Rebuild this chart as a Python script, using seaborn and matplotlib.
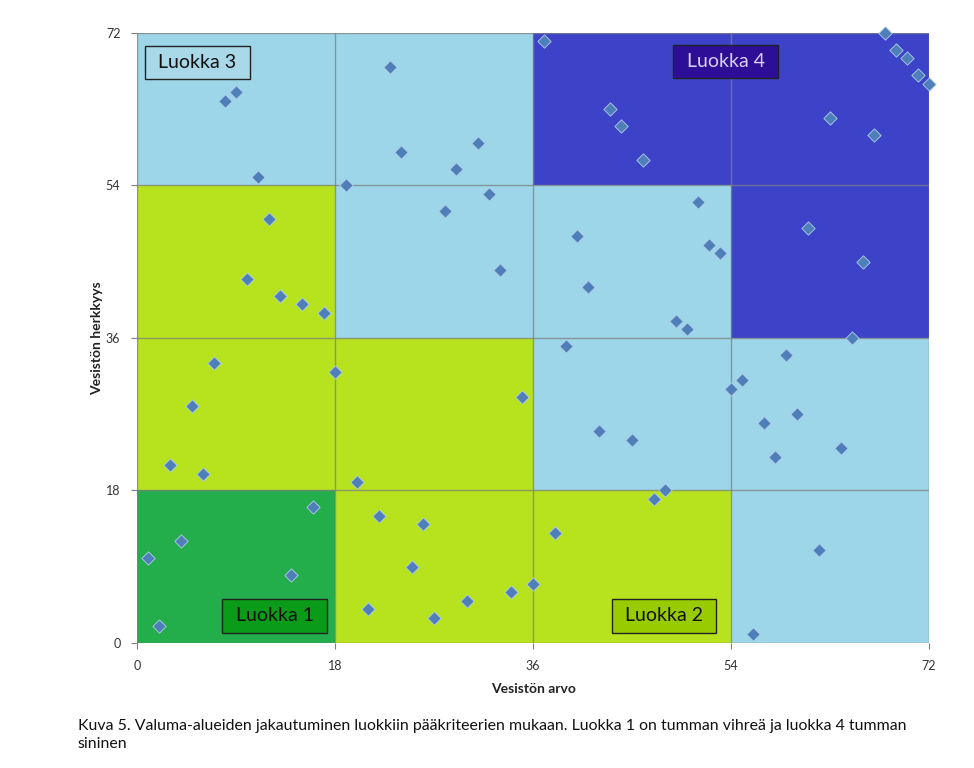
import numpy as np
import pandas as pd
import matplotlib
matplotlib.use("Agg")
import matplotlib.pyplot as plt
from matplotlib.colors import ListedColormap
import seaborn as sns

# ---- data ----
x_value = [8, 9, 11, 23, 24, 31, 29, 19, 32, 28, 33, 12, 10, 13, 15, 17, 37, 43, 44, 46,
           68, 69, 70, 71, 72, 63, 67, 61, 66, 65, 51, 40, 52, 53, 41, 49, 50, 39, 7, 18,
           5, 3, 6, 35, 20, 16, 4, 1, 14, 2, 22, 26, 25, 36, 34, 30, 21, 27, 59, 55,
           54, 60, 57, 64, 58, 42, 45, 48, 47, 38, 62, 56]
y_sens = [64, 65, 55, 68, 58, 59, 56, 54, 53, 51, 44, 50, 43, 41, 40, 39, 71, 63, 61, 57,
          72, 70, 69, 67, 66, 62, 60, 49, 45, 36, 52, 48, 47, 46, 42, 38, 37, 35, 33, 32,
          28, 21, 20, 29, 19, 16, 12, 10, 8, 2, 15, 14, 9, 7, 6, 5, 4, 3, 34, 31,
          30, 27, 26, 23, 22, 25, 24, 18, 17, 13, 11, 1]

cell_edges = [0, 18, 36, 54, 72]
# class of each cell, rows = y bins (bottom to top), cols = x bins (left to right)
cell_class = [[1, 2, 2, 3],
              [2, 2, 3, 3],
              [2, 3, 3, 4],
              [3, 3, 4, 4]]
class_colors = ["#24ad4b", "#b6e31e", "#9dd6e9", "#3d43c8"]

labels = ["Luokka 1", "Luokka 2", "Luokka 3", "Luokka 4"]
label_x = [12.5, 47.9, 5.5, 53.5]
label_y = [3.2, 3.2, 68.5, 68.6]
label_fill = ["#0a9c18", "#99cc00", "#a9d8e8", "#2c0f96"]
label_text = ["#111111", "#111111", "#111111", "#d9d0f5"]

ticks = [0, 18, 36, 54, 72]
xlabel = "Vesistön arvo"
ylabel = "Vesistön herkkyys"
caption = ("Kuva 5. Valuma-alueiden jakautuminen luokkiin pääkriteerien mukaan. "
           "Luokka 1 on tumman vihreä ja luokka 4 tumman\nsininen")

# ---- plot ----
sns.set_theme(style="white")
plt.rcParams["font.family"] = ["Lato", "DejaVu Sans"]

fig = plt.figure(figsize=(9.74, 7.68), dpi=100)
ax = fig.add_axes([0.1407, 0.1628, 0.8131, 0.7943])

cmap = ListedColormap(class_colors)
ax.pcolormesh(cell_edges, cell_edges, np.array(cell_class), cmap=cmap,
              vmin=0.5, vmax=4.5, zorder=0)

for v in cell_edges:
    ax.axvline(v, color="#7f7f7f", lw=1.0, alpha=0.75, zorder=1)
    ax.axhline(v, color="#7f7f7f", lw=1.0, alpha=0.75, zorder=1)

df = pd.DataFrame({"x": x_value, "y": y_sens})
sns.scatterplot(data=df, x="x", y="y", marker="D", s=46, color="#4f7fb8",
                edgecolor="#b4cdea", linewidth=0.6, ax=ax, zorder=3, clip_on=False)

for t, lx, ly, fc, tc in zip(labels, label_x, label_y, label_fill, label_text):
    ax.text(lx, ly, " " + t + " ", ha="center", va="center", fontsize=14, color=tc,
            zorder=4,
            bbox=dict(boxstyle="square,pad=0.42", fc=fc, ec="#222222", lw=1.0))

ax.set_xlim(0, 72)
ax.set_ylim(0, 72)
ax.set_xticks(ticks)
ax.set_yticks(ticks)
ax.tick_params(axis="both", which="both", length=4, width=0.8, color="#7f7f7f",
               direction="out", labelsize=9, labelcolor="#333333", pad=8,
               bottom=True, left=True)
for sp in ax.spines.values():
    sp.set_visible(False)

ax.set_xlabel(xlabel, fontsize=10, fontweight="bold", color="#222222", labelpad=8)
ax.set_ylabel(ylabel, fontsize=10, fontweight="bold", color="#222222", labelpad=2)

fig.text(78 / 974, 1 - 735 / 768, caption, ha="left", va="center", fontsize=11.4,
         color="#111111", linespacing=1.3)

fig.savefig("out.png", dpi=100)
